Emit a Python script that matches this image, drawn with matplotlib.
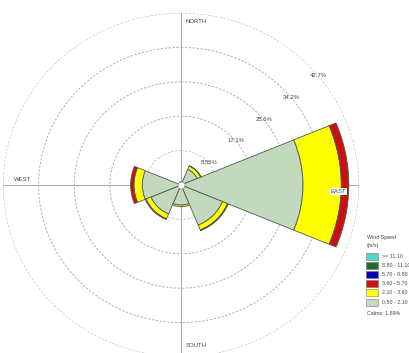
import numpy as np
import matplotlib
matplotlib.use("Agg")
import matplotlib.pyplot as plt
from matplotlib.patches import Rectangle

plt.rcParams['font.family'] = ['Liberation Sans', 'DejaVu Sans']

# Wind directions (compass bearings, degrees) and frequencies (%) per speed class
directions = ['N', 'NE', 'E', 'SE', 'S', 'SW', 'W', 'NW']
bearings = [0, 45, 90, 135, 180, 225, 270, 315]

freq_050_210 = [0.8, 4.2, 29.3, 10.8, 5.0, 7.8, 9.3, 0.6]
freq_210_360 = [0.0, 0.9, 9.2, 1.3, 0.4, 1.3, 2.0, 0.0]
freq_360_570 = [0.0, 0.1, 1.8, 0.2, 0.0, 0.2, 0.8, 0.0]
freq_570_880 = [0.0, 0.0, 0.0, 0.0, 0.0, 0.0, 0.0, 0.0]
freq_880_1110 = [0.0, 0.0, 0.0, 0.0, 0.0, 0.0, 0.0, 0.0]
freq_ge_1110 = [0.0, 0.0, 0.0, 0.0, 0.0, 0.0, 0.0, 0.0]

speed_labels = ['>= 11.10', '8.80 - 11.10', '5.70 - 8.80',
                '3.60 - 5.70', '2.10 - 3.60', '0.50 - 2.10']
speed_colors = ['#4fd8c4', '#1f6b2b', '#0000b4', '#cc1010', '#ffff00', '#c2d9bd']
calms_pct = 1.89

ring_values = [8.55, 17.1, 25.65, 34.2, 42.75]
ring_labels = ['8.55%', '17.1%', '25.6%', '34.2%', '42.7%']

fig = plt.figure(figsize=(4.10, 3.53), dpi=100)
ax = fig.add_axes([0.0073, -0.0113, 0.8683, 0.9745], projection='polar')
ax.set_theta_zero_location('N')
ax.set_theta_direction(-1)
ax.set_aspect('auto')
ax.set_ylim(0, ring_values[-1])
ax.spines['polar'].set_visible(False)
ax.grid(False)
ax.set_xticks([])
ax.set_yticks([])
ax.patch.set_alpha(0)

# dashed rings
tt = np.linspace(0, 2 * np.pi, 400)
for i, rv in enumerate(ring_values):
    col = '#cbbfe0' if i == 0 else '#b4b4b4'
    ax.plot(tt, np.full_like(tt, rv), ls=(0, (2.5, 1.5)), lw=0.7, color=col, zorder=1)

# compass cross lines
for b in (0, 90):
    th = np.deg2rad(b)
    ax.plot([th, th], [0, ring_values[-1]], color='#a8a8a8', lw=0.7, zorder=1)
    ax.plot([th + np.pi, th + np.pi], [0, ring_values[-1]], color='#a8a8a8', lw=0.7, zorder=1)

# stacked sectors, slowest class at the centre
theta = np.deg2rad(bearings)
width = np.deg2rad(45)
stack = [freq_050_210, freq_210_360, freq_360_570, freq_570_880, freq_880_1110, freq_ge_1110]
stack_colors = speed_colors[::-1]
base = np.zeros(len(directions))
for vals, col in zip(stack, stack_colors):
    vals = np.array(vals)
    mask = vals > 0
    if mask.any():
        ax.bar(theta[mask], vals[mask], width=width, bottom=base[mask], color=col,
               edgecolor='#4d5a4d', linewidth=0.6, align='center', zorder=3)
    base += vals

# calm hub
ax.plot([0], [0], marker='o', markersize=5, markerfacecolor='white',
        markeredgecolor='#888888', markeredgewidth=0.5, zorder=5)

# ring labels
for rv, lab in zip(ring_values, ring_labels):
    ax.text(np.deg2rad(50.5), rv + 0.1, lab, fontsize=4.3, color='#444444',
            ha='center', va='center', zorder=6)

# compass labels
ax.text(np.deg2rad(1.5), 40.6, 'NORTH', fontsize=4.3, color='#444444', ha='left', va='center', zorder=6)
ax.text(np.deg2rad(178.5), 39.8, 'SOUTH', fontsize=4.3, color='#444444', ha='left', va='center', zorder=6)
ax.text(np.deg2rad(272.0), 38.0, 'WEST', fontsize=4.3, color='#444444', ha='center', va='center', zorder=6)
ax.text(np.deg2rad(92.5), 37.8, 'EAST', fontsize=4.3, color='#444444', ha='center', va='center', zorder=6,
        bbox=dict(boxstyle='square,pad=0.15', facecolor='white', edgecolor='none'))

# legend
W, H = 410.0, 353.0
def fx(px):
    return px / W
def fy(py):
    return 1 - py / H

fig.text(fx(367), fy(238), 'Wind Speed', fontsize=3.8, color='#444444', ha='left', va='center')
fig.text(fx(367), fy(246), '(m/s)', fontsize=3.8, color='#444444', ha='left', va='center')
for i, (lab, col) in enumerate(zip(speed_labels, speed_colors)):
    yc = 256 + i * 9.2
    fig.patches.append(Rectangle((fx(366), fy(yc + 3.5)), 12 / W, 7 / H, transform=fig.transFigure,
                                 facecolor=col, edgecolor='#777777', linewidth=0.4))
    fig.text(fx(382), fy(yc), lab, fontsize=3.8, color='#444444', ha='left', va='center')
fig.text(fx(367), fy(256 + 6 * 9.2 + 2), f'Calms: {calms_pct:.2f}%', fontsize=3.8,
         color='#444444', ha='left', va='center')

fig.savefig('out.png', dpi=100)
